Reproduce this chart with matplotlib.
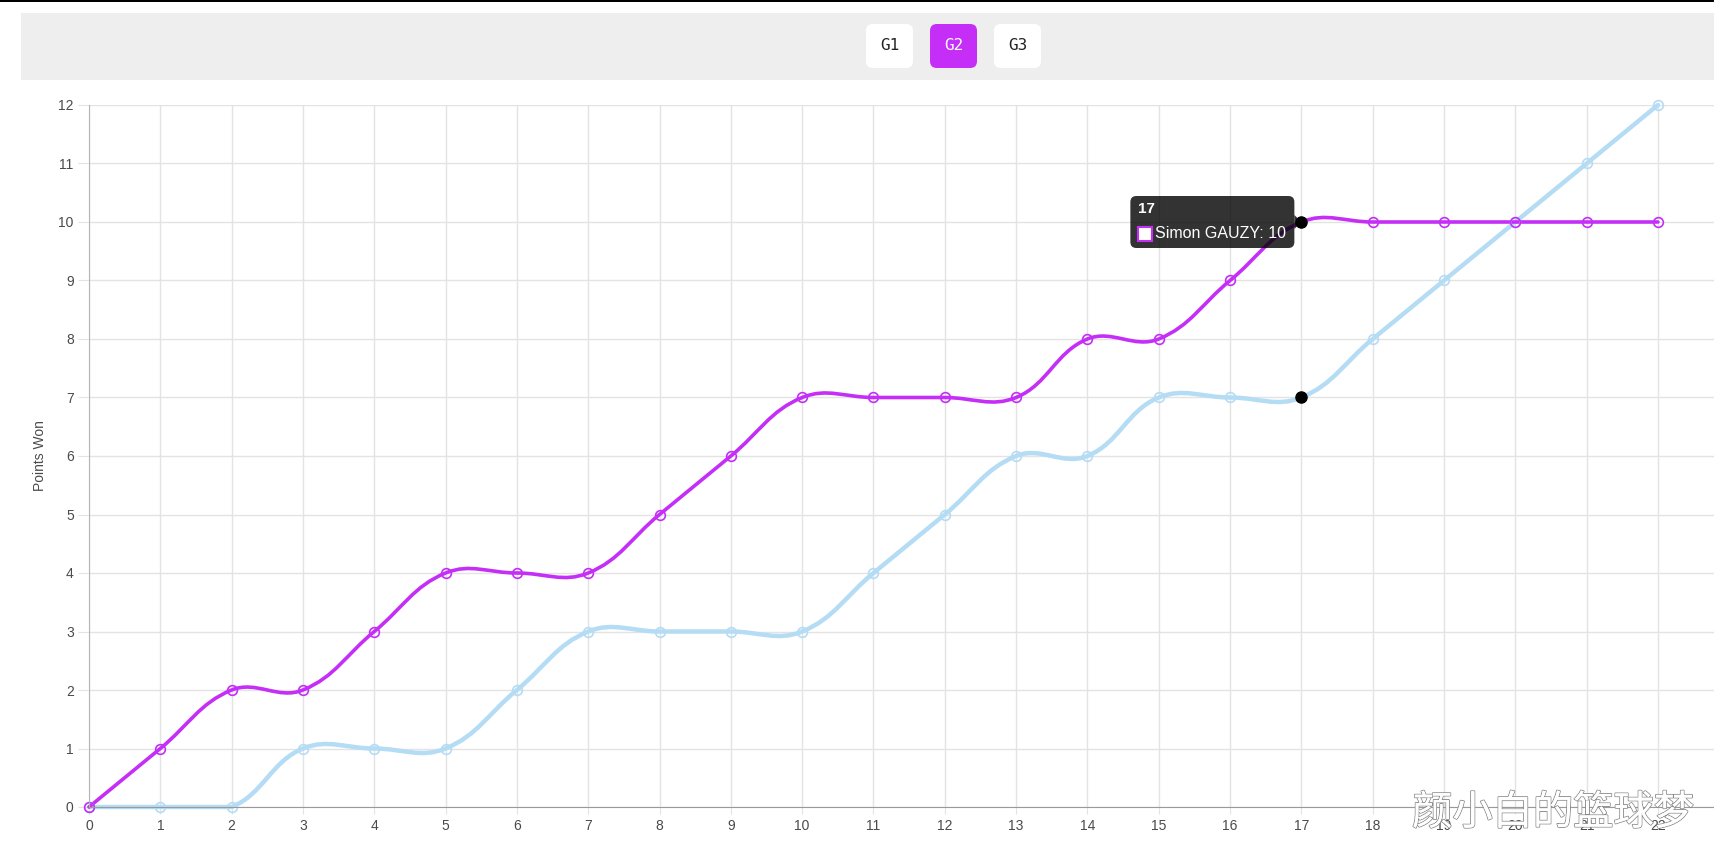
import numpy as np
import matplotlib
matplotlib.use("Agg")
import matplotlib.pyplot as plt
from matplotlib.path import Path
from matplotlib.patches import PathPatch, FancyBboxPatch, Rectangle, Polygon
from matplotlib.transforms import IdentityTransform
import matplotlib.patheffects as pe

# data
rallies = list(range(23))
gauzy = [0, 1, 2, 2, 3, 4, 4, 4, 5, 6, 7, 7, 7, 7, 8, 8, 9, 10, 10, 10, 10, 10, 10]
opponent = [0, 0, 0, 1, 1, 1, 2, 3, 3, 3, 3, 4, 5, 6, 6, 7, 7, 7, 8, 9, 10, 11, 12]
games = ["G1", "G2", "G3"]
active_game = "G2"
hover_idx = 17
series_name = "Simon GAUZY"

PURPLE = "#c42ef6"
BLUE = "#b4dcf4"
W, H = 1715, 858
XMAX, YMAX = 22.8, 12

plt.rcParams['font.family'] = ['Liberation Sans', 'DejaVu Sans']

fig = plt.figure(figsize=(W / 100, H / 100), dpi=100)
fig.patch.set_facecolor("white")

# plot area
ax = fig.add_axes([89 / W, 51 / H, 1 - 89 / W, 702 / H])
ax.set_xlim(0, XMAX)
ax.set_ylim(0, YMAX)
ax.set_xticks(rallies)
ax.set_yticks(range(13))
ax.grid(True, color="#e3e3e3", linewidth=1)
ax.set_axisbelow(True)
for s in ["top", "right"]:
    ax.spines[s].set_visible(False)
ax.spines["left"].set_color("#b5b5b5")
ax.spines["bottom"].set_color("#9a9a9a")
ax.tick_params(axis="y", length=8, color="#e3e3e3", pad=3, labelsize=10, labelcolor="#4a4a4a")
ax.tick_params(axis="x", length=5, color="#e3e3e3", pad=4, labelsize=10, labelcolor="#4a4a4a")
ax.set_ylabel("Points Won", fontsize=10, color="#4a4a4a", labelpad=8)


def spline_path(xs, ys, t=0.4, sx=71.3, sy=58.5):
    # chart.js style bezier with tension, distances in pixel space,
    # control points kept inside the chart area
    p = np.column_stack([np.asarray(xs, float) * sx, np.asarray(ys, float) * sy])
    n = len(p)
    cp_prev = p.copy()
    cp_next = p.copy()
    for i in range(n):
        p0 = p[max(i - 1, 0)]
        p1 = p[i]
        p2 = p[min(i + 1, n - 1)]
        d01 = np.hypot(*(p1 - p0))
        d12 = np.hypot(*(p2 - p1))
        tot = d01 + d12
        s01 = d01 / tot if tot else 0
        s12 = d12 / tot if tot else 0
        cp_prev[i] = p1 - t * s01 * (p2 - p0)
        cp_next[i] = p1 + t * s12 * (p2 - p0)
    verts = [p[0]]
    codes = [Path.MOVETO]
    for i in range(n - 1):
        verts += [cp_next[i], cp_prev[i + 1], p[i + 1]]
        codes += [Path.CURVE4] * 3
    verts = np.array(verts) / [sx, sy]
    verts[:, 0] = np.clip(verts[:, 0], 0, XMAX)
    verts[:, 1] = np.clip(verts[:, 1], 0, YMAX)
    return Path(verts, codes)


for ys, col, lw in [(opponent, BLUE, 3.2), (gauzy, PURPLE, 2.6)]:
    ax.add_patch(PathPatch(spline_path(rallies, ys), facecolor="none", edgecolor=col,
                           linewidth=lw, capstyle="round", joinstyle="round", clip_on=False))
    ax.plot(rallies, ys, linestyle="none", marker="o", markersize=7, markerfacecolor="none",
            markeredgecolor=col, markeredgewidth=1.2, clip_on=False)
    ax.plot([hover_idx], [ys[hover_idx]], linestyle="none", marker="o", markersize=8,
            color="black", clip_on=False, zorder=5)

# tooltip
fig.canvas.draw()
hx, hy = ax.transData.transform((hover_idx, gauzy[hover_idx]))
idt = IdentityTransform()
bx0, bx1 = hx - 171, hx - 7
by0, by1 = hy - 26, hy + 26
tip = FancyBboxPatch((bx0, by0), bx1 - bx0, by1 - by0, boxstyle="round,pad=0,rounding_size=6",
                     transform=idt, facecolor="#000000", alpha=0.8, edgecolor="none", zorder=10)
fig.patches.append(tip)
caret = Polygon([[bx1, hy - 7], [hx, hy], [bx1, hy + 7]], closed=True, transform=idt,
                facecolor="#000000", alpha=0.8, edgecolor="none", zorder=10)
fig.patches.append(caret)
fig.text(bx0 + 8, by1 - 13, str(hover_idx), transform=idt, color="white", fontsize=11,
         fontweight="bold", va="center", ha="left", zorder=11)
fig.patches.append(Rectangle((bx0 + 8, by0 + 7), 14, 14, transform=idt, facecolor="white",
                             edgecolor=PURPLE, linewidth=1.5, zorder=11))
fig.text(bx0 + 25, by0 + 14, f"{series_name}: {gauzy[hover_idx]}", transform=idt, color="white",
         fontsize=11.5, va="center", ha="left", zorder=11)

# top black line and button bar
fig.patches.append(Rectangle((0, 1 - 2 / H), 1, 2 / H, transform=fig.transFigure,
                             facecolor="black", edgecolor="none"))
fig.patches.append(Rectangle((21 / W, 1 - 80 / H), 1 - 21 / W, 67 / H, transform=fig.transFigure,
                             facecolor="#eeeeee", edgecolor="none"))
btn_left = [866, 930, 994]
for g, left in zip(games, btn_left):
    on = g == active_game
    fig.patches.append(FancyBboxPatch((left / W, 1 - 68 / H), 47 / W, 44 / H,
                                      boxstyle="round,pad=0,rounding_size=0.004",
                                      transform=fig.transFigure, mutation_aspect=W / H,
                                      facecolor=PURPLE if on else "white", edgecolor="none"))
    fig.text((left + 23.5) / W, 1 - 46 / H, g, ha="center", va="center",
             family="DejaVu Sans Mono", fontsize=11.5, color="white" if on else "#222222")

# watermark
fig.text(1553 / W, 1 - 813 / H, "颜小白的篮球梦", ha="center", va="center", fontsize=29,
         family=["Noto Sans CJK SC", "DejaVu Sans"], color="white", zorder=20,
         path_effects=[pe.withStroke(linewidth=1.3, foreground="#8a8a8a"), pe.Normal()])

fig.savefig("out.png", dpi=100)
